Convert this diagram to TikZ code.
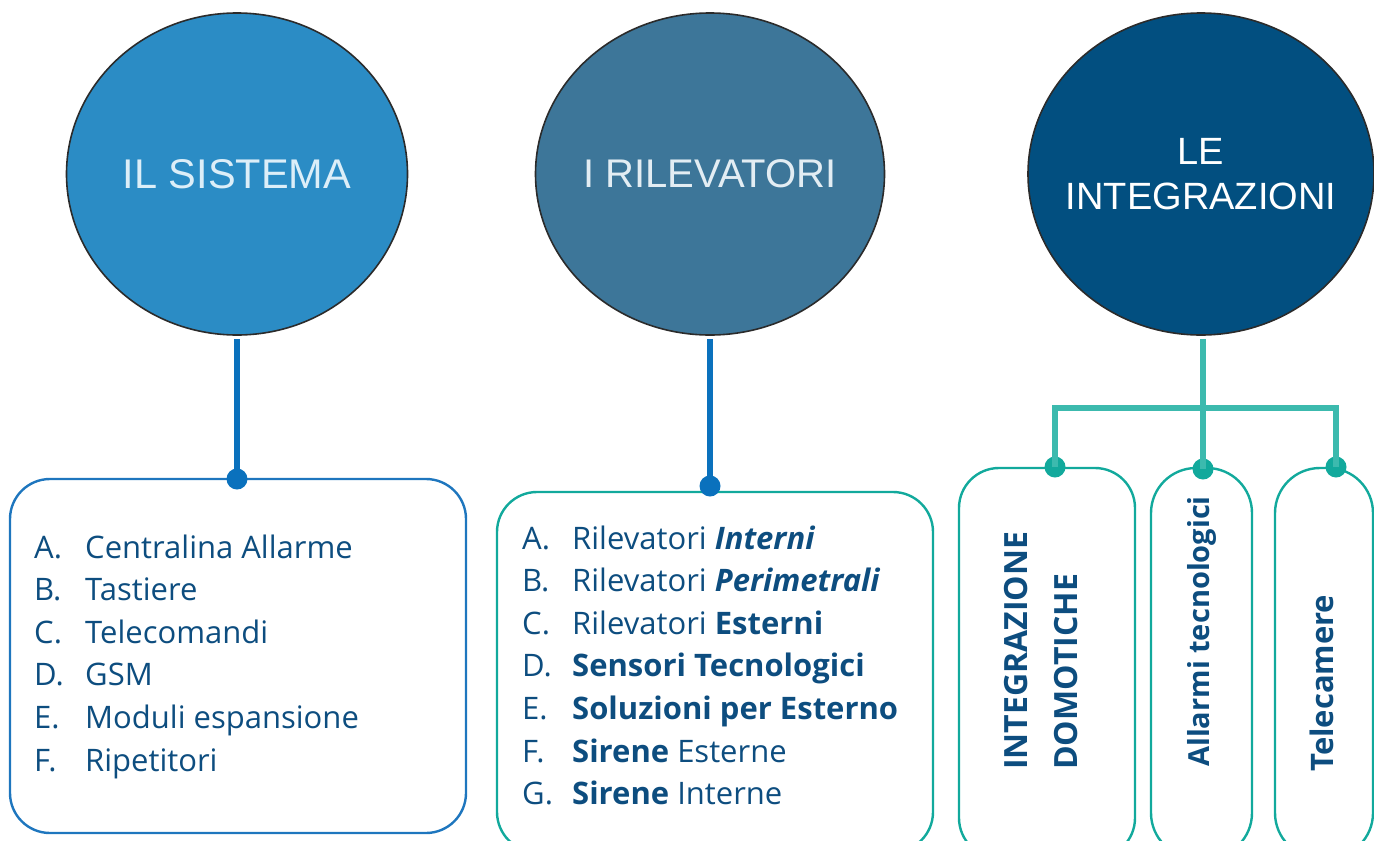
\documentclass[tikz,border=0pt]{standalone}
\usepackage{fontspec}
\setmainfont{Open Sans}[Ligatures=NoCommon]
\newfontfamily\helv{Liberation Sans}
\usetikzlibrary{shapes.geometric}
\definecolor{cfillA}{HTML}{2B8CC5}
\definecolor{cfillB}{HTML}{3D7699}
\definecolor{cfillC}{HTML}{024F80}
\definecolor{cborder}{HTML}{2B2B2B}
\definecolor{ctextA}{HTML}{DCEEF8}
\definecolor{ctextB}{HTML}{E3EDF3}
\definecolor{blueline}{HTML}{0A71BD}
\definecolor{boxblue}{HTML}{1E76BE}
\definecolor{teal}{HTML}{12A99C}
\definecolor{teallight}{HTML}{3CBAAE}
\definecolor{listtext}{HTML}{0D4D7F}
\begin{document}
\begin{tikzpicture}[x=1pt,y=-1pt,
  bigcircle/.style={ellipse, draw=cborder, line width=1.6pt, inner sep=0pt},
  listbox/.style={draw, rounded corners=40pt, line width=2.4pt, inner sep=0pt},
  connblue/.style={draw=blueline, line width=5.5pt},
  connteal/.style={draw=teallight, line width=5.5pt},
  dotnode/.style={circle, inner sep=0pt, minimum size=21pt},
  listfont/.style={font=\fontsize{31}{42.6}\selectfont, text=listtext, inner sep=0pt, anchor=base west},
  vertlabel/.style={font=\bfseries\fontsize{32}{36}\selectfont, text=listtext, inner sep=0pt, rotate=90, anchor=base west}
]
\useasboundingbox (0,0) rectangle (1374,841);

% circles
\node[bigcircle, fill=cfillA, minimum width=341pt, minimum height=322pt,
      label={[text=ctextA, font=\helv\fontsize{41.5}{46}\selectfont]center:IL SISTEMA}] (cA) at (237,174) {};
\node[bigcircle, fill=cfillB, minimum width=349pt, minimum height=322pt,
      label={[text=ctextB, font=\helv\fontsize{40}{46}\selectfont]center:I RILEVATORI}] (cB) at (710,174) {};
\node[bigcircle, fill=cfillC, minimum width=346pt, minimum height=322pt,
      label={[text=white, align=center, font=\helv\fontsize{38}{45}\selectfont]center:LE\\INTEGRAZIONI}] (cC) at (1201,174) {};

% boxes
\node[listbox, draw=boxblue, minimum width=456pt, minimum height=354pt] (bA) at (238,656) {};
\node[listbox, draw=teal, minimum width=436pt, minimum height=360pt] (bB) at (715,672) {};
\node[listbox, draw=teal, minimum width=176pt, minimum height=390pt] (bC1) at (1047,663) {};
\node[listbox, draw=teal, rounded corners=45pt, minimum width=101pt, minimum height=390pt] (bC2) at (1201.5,663) {};
\node[listbox, draw=teal, rounded corners=45pt, minimum width=98pt, minimum height=390pt] (bC3) at (1324,663) {};

% dots
\node[dotnode, fill=blueline] (dA) at (237,479) {};
\node[dotnode, fill=blueline] (dB) at (710,486) {};
\node[dotnode, fill=teal] (dC1) at (1055,467) {};
\node[dotnode, fill=teal] (dC2) at (1203,469) {};
\node[dotnode, fill=teal] (dC3) at (1336,467) {};
\coordinate (bar) at (1203,408);

% connectors
\draw[connblue] ([yshift=-3pt]cA.south) -- (dA.center);
\draw[connblue] ([yshift=-3pt]cB.south) -- (dB.center);
\draw[connteal] ([yshift=-3pt]cC.south -| dC2) -- (dC2.center);
\draw[connteal] (dC1.center) -- (dC1 |- bar) -- (dC3 |- bar) -- (dC3.center);

% list A
\node[listfont] (lA) at (34,558) {\begin{tabular}[t]{@{}p{51pt}@{}l@{}}
A. & Centralina Allarme\\
B. & Tastiere\\
C. & Telecomandi\\
D. & GSM\\
E. & Moduli espansione\\
F. & Ripetitori
\end{tabular}};

% list B
\node[listfont] (lB) at (522,549) {\begin{tabular}[t]{@{}p{50pt}@{}l@{}}
A. & Rilevatori \textbf{\textit{Interni}}\\
B. & Rilevatori \textbf{\textit{Perimetrali}}\\
C. & Rilevatori \textbf{Esterni}\\
D. & \textbf{Sensori Tecnologici}\\
E. & \textbf{Soluzioni per Esterno}\\
F. & \textbf{Sirene} Esterne\\
G. & \textbf{Sirene} Interne
\end{tabular}};

% vertical labels
\node[vertlabel] (tC1a) at (1027,770) {INTEGRAZIONE};
\node[vertlabel] (tC1b) at (1077,770) {DOMOTICHE};
\node[vertlabel, font=\bfseries\fontsize{29}{34}\selectfont] (tC2) at (1209,767) {Allarmi tecnologici};
\node[vertlabel, font=\bfseries\fontsize{31}{34}\selectfont] (tC3) at (1333,772) {Telecamere};
\end{tikzpicture}
\end{document}
